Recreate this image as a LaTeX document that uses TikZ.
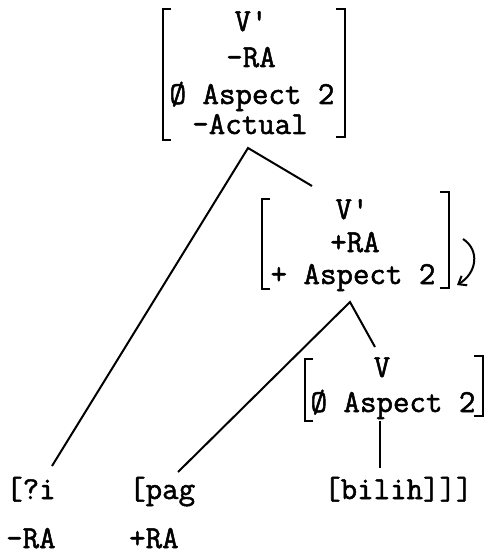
\documentclass[tikz,border=0pt]{standalone}
\usepackage{fontspec}
\setmonofont{Latin Modern Mono}[FakeBold=1.6]
\usetikzlibrary{arrows.meta}
\begin{document}
\begin{tikzpicture}[x=1pt,y=-1pt,
  txt/.style={font=\ttfamily\fontsize{32}{36}\selectfont, inner sep=0pt, anchor=base},
  lft/.style={txt, anchor=base west},
  br/.style={line width=2pt},
  ln/.style={line width=2pt}]
\useasboundingbox (0,0) rectangle (487,556);
% top bundle
\node[txt] (t1) at (251,31) {V'};
\node[txt] (t2) at (251,67) {-RA};
\node[txt] (t3) at (252,104) {Ø Aspect 2};
\node[txt] (t4) at (250,134) {-Actual};
\draw[br] (171,9) -- (163,9) -- (163,140) -- (171,140);
\draw[br] (336,9) -- (345,9) -- (345,137) -- (336,137);
% second bundle
\node[txt] (s1) at (352,219) {V'};
\node[txt] (s2) at (355,252) {+RA};
\node[txt] (s3) at (353,284) {+ Aspect 2};
\draw[br] (270,199) -- (262,199) -- (262,289) -- (270,289);
\draw[br] (440,192) -- (449,192) -- (449,288) -- (440,288);
\draw[ln,-{Straight Barb[length=7pt,width=11pt]}] (463,239) .. controls (480,250) and (477,273) .. (457,285);
% V bundle
\node[txt] (v1) at (382,377) {V};
\node[txt] (v2) at (393,412) {Ø Aspect 2};
\draw[br] (313,359) -- (305,359) -- (305,421) -- (313,421);
\draw[br] (474,356) -- (483,356) -- (483,416) -- (474,416);
% leaves
\node[lft] (qi) at (6,499) {[?i};
\node[lft] (pag) at (129,499) {[pag};
\node[lft] (bil) at (324,499) {[bilih]]]};
\node[lft] (m1) at (6,548) {-RA};
\node[lft] (p1) at (129,548) {+RA};
% connectors
\coordinate (ap1) at (248,148);
\coordinate (ap2) at (350,302);
\coordinate (qiTop) at (52,466);
\coordinate (pagTop) at (178,472);
\coordinate (s1In) at (312,186);
\coordinate (v1In) at (375,347);
\coordinate (v2Out) at (380,421);
\coordinate (bilTop) at (380,468);
\draw[ln] (qiTop) -- (ap1) -- (s1In);
\draw[ln] (pagTop) -- (ap2) -- (v1In);
\draw[ln] (v2Out) -- (bilTop);
\end{tikzpicture}
\end{document}
